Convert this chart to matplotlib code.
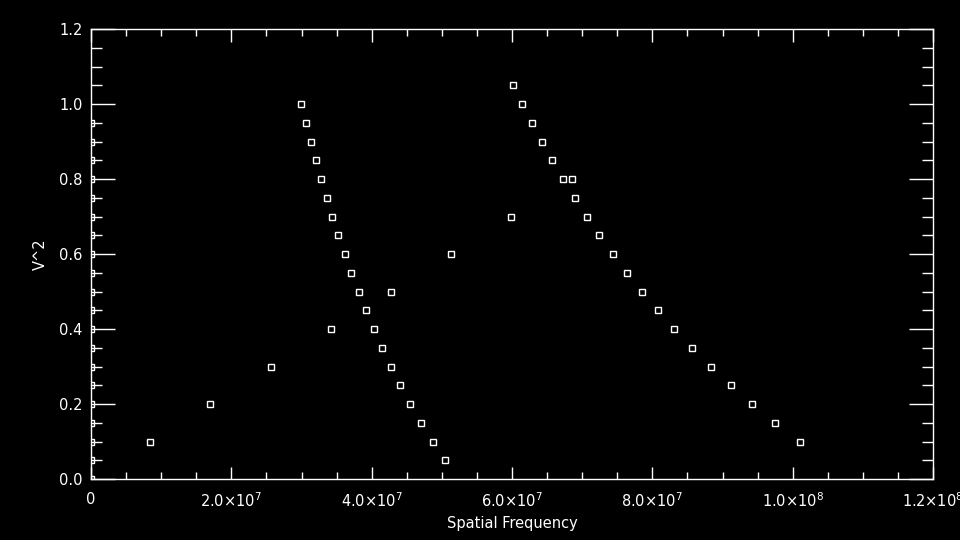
import matplotlib
matplotlib.use("Agg")
import matplotlib.pyplot as plt
import numpy as np

# points sitting on the y axis (x = 0)
axis_y = [0.0, 0.05, 0.10, 0.15, 0.20, 0.25, 0.30, 0.35, 0.40, 0.45,
          0.50, 0.55, 0.60, 0.65, 0.70, 0.75, 0.80, 0.85, 0.90, 0.95]

# first ramp (spatial frequency, V^2)
ramp1_x = [29.97e6, 30.68e6, 31.40e6, 32.11e6, 32.82e6, 33.68e6, 34.39e6,
           35.24e6, 36.24e6, 37.10e6, 38.24e6, 39.23e6, 40.38e6, 41.52e6,
           42.80e6, 44.08e6, 45.51e6, 47.07e6, 48.78e6, 50.49e6]
ramp1_y = [1.00, 0.95, 0.90, 0.85, 0.80, 0.75, 0.70, 0.65, 0.60, 0.55,
           0.50, 0.45, 0.40, 0.35, 0.30, 0.25, 0.20, 0.15, 0.10, 0.05]

# second ramp
ramp2_x = [60.19e6, 61.47e6, 62.89e6, 64.32e6, 65.74e6, 67.31e6, 68.60e6,
           69.02e6, 70.73e6, 72.44e6, 74.44e6, 76.43e6, 78.57e6, 80.85e6,
           83.13e6, 85.70e6, 88.40e6, 91.25e6, 94.25e6, 97.53e6, 101.09e6]
ramp2_y = [1.05, 1.00, 0.95, 0.90, 0.85, 0.80, 0.80, 0.75, 0.70, 0.65,
           0.60, 0.55, 0.50, 0.45, 0.40, 0.35, 0.30, 0.25, 0.20, 0.15, 0.10]

# scattered points
other_x = [8.45e6, 17.0e6, 25.70e6, 34.25e6, 42.80e6, 51.35e6, 59.90e6]
other_y = [0.10, 0.20, 0.30, 0.40, 0.50, 0.60, 0.70]

xticks = [0, 2e7, 4e7, 6e7, 8e7, 1e8, 1.2e8]
xtick_labels = ['0', r'2.0$\times$10$^{7}$', r'4.0$\times$10$^{7}$', r'6.0$\times$10$^{7}$',
                r'8.0$\times$10$^{7}$', r'1.0$\times$10$^{8}$', r'1.2$\times$10$^{8}$']
yticks = [0.0, 0.2, 0.4, 0.6, 0.8, 1.0, 1.2]
ytick_labels = ['0.0', '0.2', '0.4', '0.6', '0.8', '1.0', '1.2']

fig = plt.figure(figsize=(9.6, 5.4), dpi=100, facecolor='black')
ax = fig.add_axes([91/960, 1-479/540, (933-91)/960, (479-29)/540])
ax.set_facecolor('black')

all_x = [0.0]*len(axis_y) + ramp1_x + ramp2_x + other_x
all_y = axis_y + ramp1_y + ramp2_y + other_y
# markers on the axis get clipped by the plot box, like the original
ax.plot(all_x, all_y, 's', markersize=5, markerfacecolor='none',
        markeredgecolor='white', markeredgewidth=1)

ax.set_xlim(0, 1.2e8)
ax.set_ylim(0, 1.2)
ax.set_xticks(xticks)
ax.set_xticklabels(xtick_labels)
ax.set_xticks(np.arange(0, 1.2e8 + 1, 5e6), minor=True)
ax.set_yticks(yticks)
ax.set_yticklabels(ytick_labels)
ax.set_yticks(np.arange(0, 1.2001, 0.05), minor=True)

for s in ax.spines.values():
    s.set_color('white')
    s.set_linewidth(1)

ax.tick_params(axis='x', which='major', direction='in', length=9, width=1,
               color='white', labelcolor='white', labelsize=10.5, top=True, pad=9)
ax.tick_params(axis='x', which='minor', direction='in', length=5, width=1,
               color='white', top=True)
ax.tick_params(axis='y', which='major', direction='in', length=17, width=1,
               color='white', labelcolor='white', labelsize=10.5, right=True, pad=6)
ax.tick_params(axis='y', which='minor', direction='in', length=8, width=1,
               color='white', right=True)

ax.set_xlabel('Spatial Frequency', color='white', fontsize=10.5, labelpad=4)
ax.set_ylabel('V^2', color='white', fontsize=10.5, labelpad=8)

fig.savefig('out.png', dpi=100, facecolor='black')
